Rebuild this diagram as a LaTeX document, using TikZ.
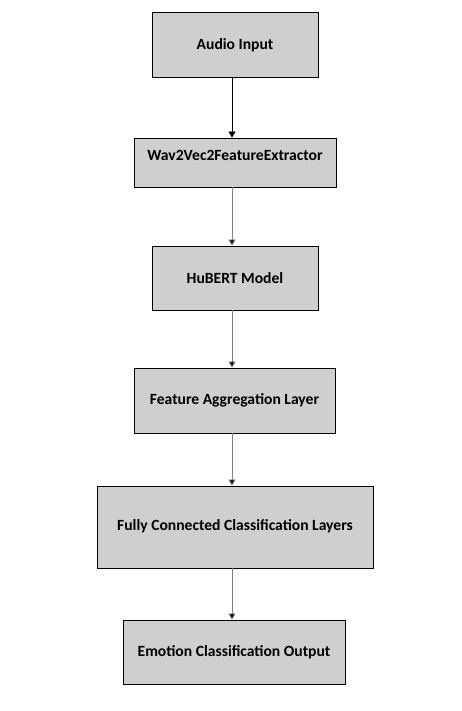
\documentclass[tikz,border=0pt]{standalone}
\usepackage{fontspec}
\setmainfont{Carlito}
\usepackage{xcolor}
\usepackage{tikz}
\usetikzlibrary{arrows.meta,positioning}
\definecolor{boxgray}{HTML}{D0CECE}
\definecolor{linegray}{HTML}{7F7F7F}
\tikzset{
  box/.style={draw=black, line width=0.9pt, fill=boxgray, align=center, inner sep=4pt, font=\bfseries\fontsize{15.6}{18}\selectfont},
  arrow/.style={-{Triangle[length=6pt, width=7pt, fill=black]}, line width=0.8pt, draw=linegray},
  firstarrow/.style={-{Triangle[length=6pt, width=7pt]}, line width=0.9pt, draw=black}
}
\begin{document}
\begin{tikzpicture}[x=1pt, y=-1pt]
  \useasboundingbox (0,0) rectangle (462,711);
  \node[box, minimum width=166pt, minimum height=65pt, text height=13pt] (audio) at (235,44.5) {Audio Input};
  \node[box, minimum width=202pt, minimum height=49pt, text depth=15pt] (extract) at (235,162.5) {Wav2Vec2FeatureExtractor};
  \node[box, minimum width=166pt, minimum height=64pt] (hubert) at (235,278) {HuBERT Model};
  \node[box, minimum width=201pt, minimum height=65pt] (aggr) at (234.5,400.5) {Feature Aggregation Layer};
  \node[box, minimum width=276pt, minimum height=82pt, text depth=4pt] (fc) at (235,527) {Fully Connected Classification Layers};
  \node[box, minimum width=222pt, minimum height=64pt] (emotion) at (234,652) {Emotion Classification Output};

  \draw[firstarrow] ([xshift=-3pt]audio.south) -- ([xshift=-3pt]extract.north);
  \draw[arrow] ([xshift=-3pt]extract.south) -- ([xshift=-3pt]hubert.north);
  \draw[arrow] ([xshift=-3pt]hubert.south) -- ([xshift=-2.5pt]aggr.north);
  \draw[arrow] ([xshift=-2.5pt]aggr.south) -- ([xshift=-3pt]fc.north);
  \draw[arrow] ([xshift=-3pt]fc.south) -- ([xshift=-2pt]emotion.north);
\end{tikzpicture}
\end{document}
